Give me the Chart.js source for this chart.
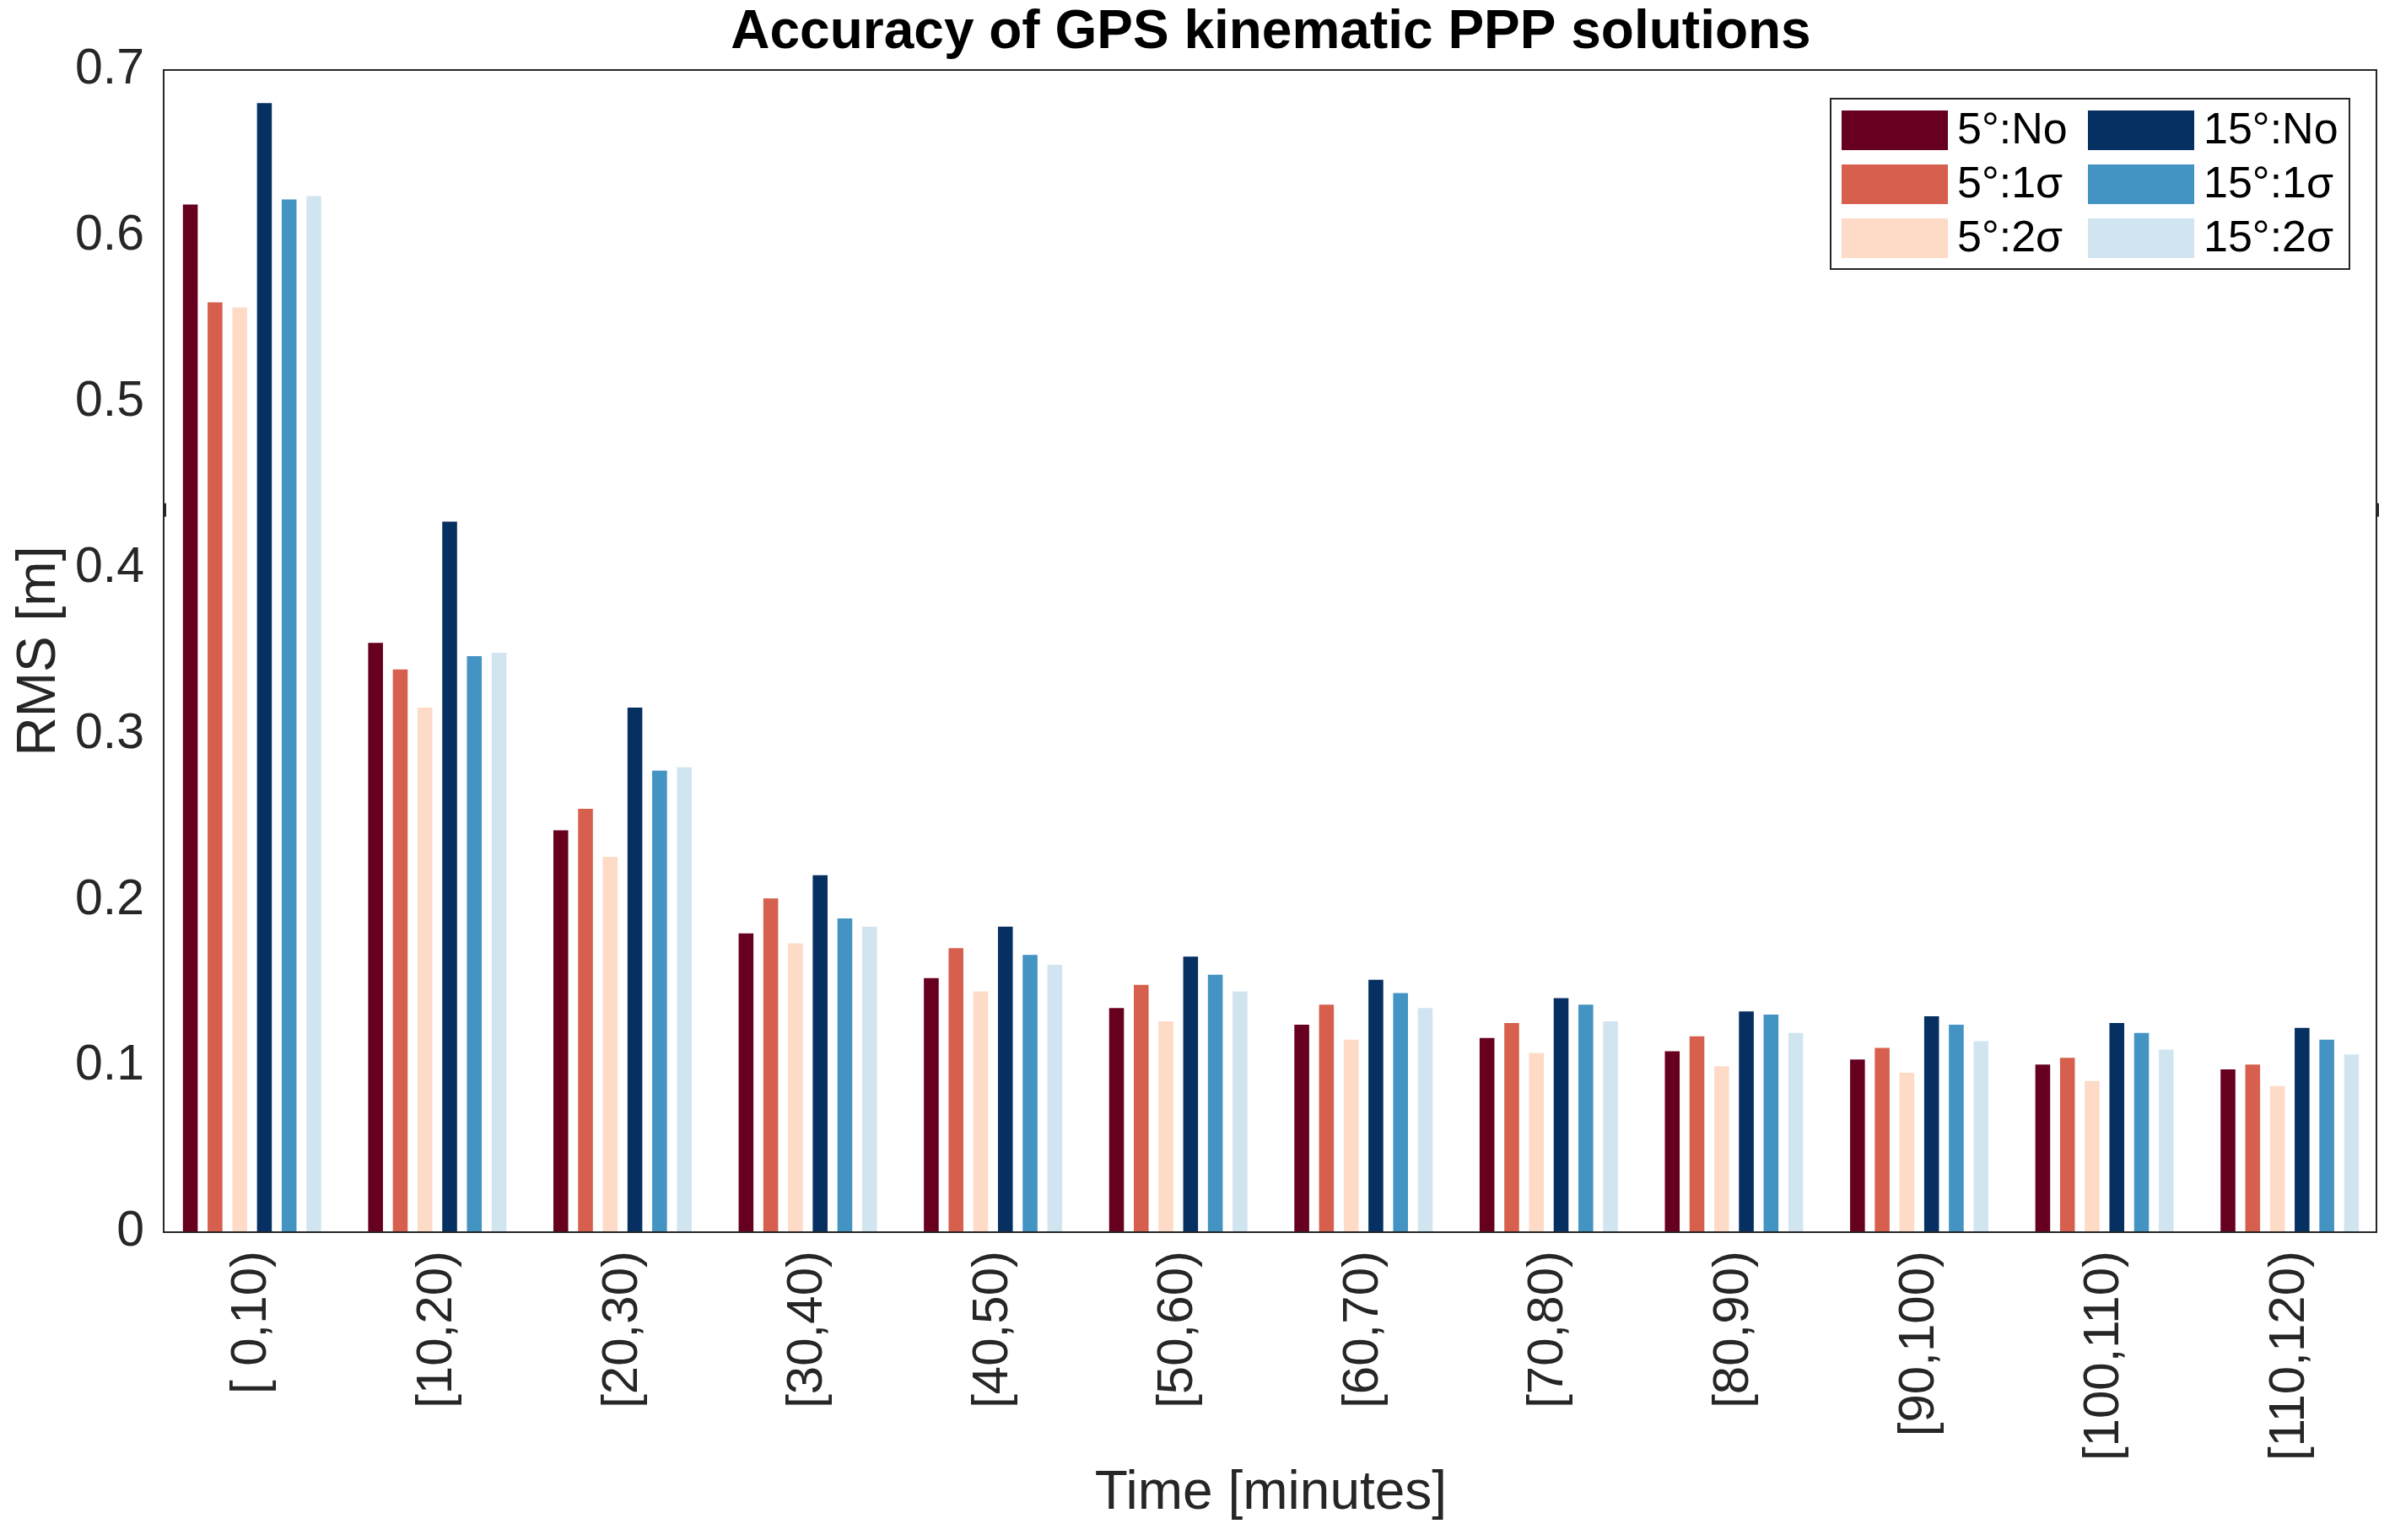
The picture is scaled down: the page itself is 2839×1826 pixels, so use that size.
<!DOCTYPE html>
<html>
<head>
<meta charset="utf-8">
<title>Accuracy of GPS kinematic PPP solutions</title>
<script src="https://cdn.jsdelivr.net/npm/chart.js@4.4.1/dist/chart.umd.min.js"></script>
<style>
  html, body { margin: 0; padding: 0; background: #fff; }
  #wrap { width: 2839px; height: 1826px; }
</style>
</head>
<body>
<div id="wrap"><canvas id="rmsChart" width="2839" height="1826"></canvas></div>
<script>
// Intervalos de tempo (minutos)
const categorias = ["[ 0,10)", "[10,20)", "[20,30)", "[30,40)", "[40,50)", "[50,60)",
  "[60,70)", "[70,80)", "[80,90)", "[90,100)", "[100,110)", "[110,120)"];

// RMS [m] por série
const rms5No  = [0.619, 0.355, 0.242, 0.180, 0.153, 0.135, 0.125, 0.117, 0.109, 0.104, 0.101, 0.098];
const rms5s1  = [0.560, 0.339, 0.255, 0.201, 0.171, 0.149, 0.137, 0.126, 0.118, 0.111, 0.105, 0.101];
const rms5s2  = [0.557, 0.316, 0.226, 0.174, 0.145, 0.127, 0.116, 0.108, 0.100, 0.096, 0.091, 0.088];
const rms15No = [0.680, 0.428, 0.316, 0.215, 0.184, 0.166, 0.152, 0.141, 0.133, 0.130, 0.126, 0.123];
const rms15s1 = [0.622, 0.347, 0.278, 0.189, 0.167, 0.155, 0.144, 0.137, 0.131, 0.125, 0.120, 0.116];
const rms15s2 = [0.624, 0.349, 0.280, 0.184, 0.161, 0.145, 0.135, 0.127, 0.120, 0.115, 0.110, 0.107];

const nomesSeries = ["5°:No", "5°:1σ", "5°:2σ", "15°:No", "15°:1σ", "15°:2σ"];
const yTicks = [0, 0.1, 0.2, 0.3, 0.4, 0.5, 0.6, 0.7];

const CORES = ["#67001f", "#d6604d", "#fddbc7", "#053061", "#4393c3", "#d1e5f0"];
const FONTE = '"Liberation Sans", Arial, Helvetica, sans-serif';
const COR_EIXO = "#262626";

// a moldura fica um pouco para dentro da área dos dados (como no MATLAB)
const MOLDURA_ESQ = 5, MOLDURA_DIR = 7;

// Moldura completa do eixo + pequena marca nas laterais
const molduraPlugin = {
  id: "moldura",
  afterDatasetsDraw(chart) {
    const { ctx, chartArea: a, scales } = chart;
    const l = a.left + MOLDURA_ESQ, r = a.right - MOLDURA_DIR;
    ctx.save();
    ctx.strokeStyle = COR_EIXO;
    ctx.lineWidth = 2;
    ctx.strokeRect(l, a.top, r - l, a.bottom - a.top);
    const yb = scales.y.getPixelForValue(0.435);
    ctx.fillStyle = COR_EIXO;
    ctx.fillRect(l, yb - 8, 3, 16);
    ctx.fillRect(r, yb - 8, 3, 16);
    ctx.restore();
  },
};

// Legenda em duas colunas dentro da área do gráfico
const legendaPlugin = {
  id: "legendaColunas",
  afterDraw(chart) {
    const { ctx, chartArea: a } = chart;
    const x0 = a.right - MOLDURA_DIR - 647, y0 = a.top + 34;
    const w = 615, h = 202;
    ctx.save();
    ctx.fillStyle = "#fff";
    ctx.fillRect(x0, y0, w, h);
    ctx.strokeStyle = COR_EIXO;
    ctx.lineWidth = 2;
    ctx.strokeRect(x0, y0, w, h);
    ctx.font = "52px " + FONTE;
    ctx.textBaseline = "middle";
    ctx.textAlign = "left";
    chart.data.datasets.forEach((ds, i) => {
      const col = Math.floor(i / 3), row = i % 3;
      const sx = x0 + 13 + col * 292;
      const sy = y0 + 14 + row * 64;
      ctx.fillStyle = ds.backgroundColor;
      ctx.fillRect(sx, sy, 126, 47);
      ctx.fillStyle = "#000";
      ctx.fillText(ds.label, sx + 137, sy + 25);
    });
    ctx.restore();
  },
};

const series = [rms5No, rms5s1, rms5s2, rms15No, rms15s1, rms15s2];

new Chart(document.getElementById("rmsChart").getContext("2d"), {
  type: "bar",
  data: {
    labels: categorias,
    datasets: series.map((dados, i) => ({
      label: nomesSeries[i],
      data: dados,
      backgroundColor: CORES[i],
      borderWidth: 0,
      categoryPercentage: 0.8,
      barPercentage: 0.6,
    })),
  },
  options: {
    responsive: false,
    devicePixelRatio: 1,
    animation: false,
    layout: { padding: { left: 0, right: 15, top: 0, bottom: 0 } },
    plugins: {
      legend: { display: false },
      tooltip: { enabled: false },
      title: {
        display: true,
        fullSize: false,
        text: "Accuracy of GPS kinematic PPP solutions",
        color: "#000",
        font: { family: FONTE, size: 64, weight: "bold", lineHeight: 1 },
        padding: { top: 7, bottom: 12 },
      },
    },
    scales: {
      x: {
        grid: { display: false, drawTicks: false },
        border: { display: false },
        ticks: {
          autoSkip: false,
          minRotation: 90,
          maxRotation: 90,
          padding: 22,
          color: COR_EIXO,
          font: { family: FONTE, size: 60 },
        },
        title: {
          display: true,
          text: "Time [minutes]",
          color: COR_EIXO,
          font: { family: FONTE, size: 64, lineHeight: 1.2 },
          padding: { top: 0, bottom: 16 },
        },
        afterFit(scale) { scale.height = 365; },
      },
      y: {
        min: 0,
        max: 0.7,
        grid: { display: false, drawTicks: false },
        border: { display: false },
        afterBuildTicks(scale) { scale.ticks = yTicks.map((v) => ({ value: v })); },
        ticks: {
          padding: 18,
          color: COR_EIXO,
          font: { family: FONTE, size: 59 },
          callback: (v) => (v === 0 ? "0" : Number(v).toFixed(1)),
        },
        title: {
          display: true,
          text: "RMS [m]",
          color: COR_EIXO,
          font: { family: FONTE, size: 64, lineHeight: 1.2 },
          padding: { top: 9, bottom: 0 },
        },
        afterFit(scale) { scale.width = 189; },
      },
    },
  },
  plugins: [molduraPlugin, legendaPlugin],
});
</script>
</body>
</html>
